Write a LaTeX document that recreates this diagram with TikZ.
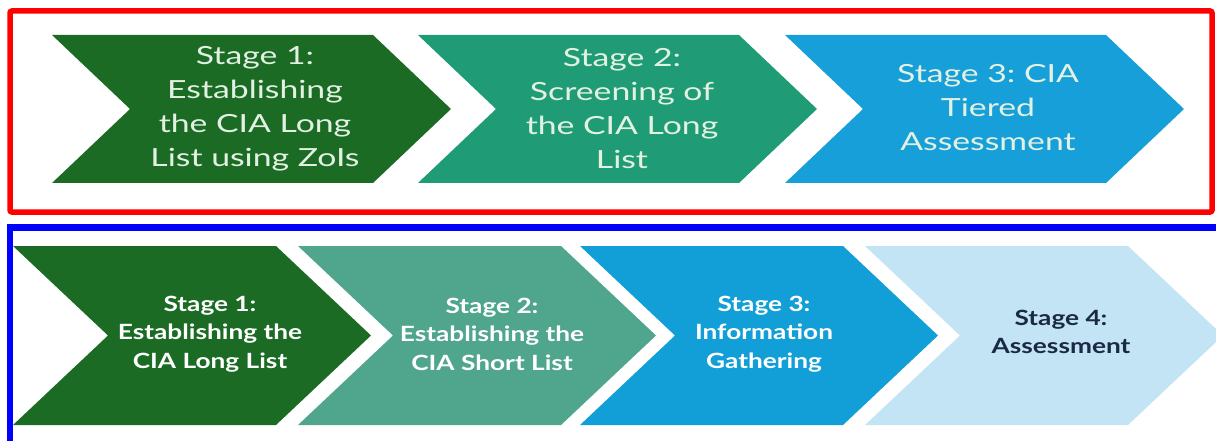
\documentclass[tikz,border=0pt]{standalone}
\usepackage{fontspec}
\newfontfamily\stagefont[FakeStretch=1.35]{Lato}
\newfontfamily\lowfont[FakeStretch=1.25]{Lato}
\frenchspacing
\definecolor{topone}{HTML}{1B6B25}
\definecolor{toptwo}{HTML}{1F9C75}
\definecolor{topthree}{HTML}{179FDA}
\definecolor{lowone}{HTML}{1B6B25}
\definecolor{lowtwo}{HTML}{50A68D}
\definecolor{lowthree}{HTML}{129ED6}
\definecolor{lowfour}{HTML}{C3E4F4}
\definecolor{paletext}{HTML}{E2F1E2}
\definecolor{navytext}{HTML}{1B2A44}
\tikzset{
  toptext/.style = {align=center, text=paletext, inner sep=0pt,
    font=\stagefont\fontsize{25}{34}\selectfont},
  lowtext/.style = {align=center, text=white, inner sep=0pt,
    font=\lowfont\bfseries\fontsize{21}{28.5}\selectfont},
  framebox/.style = {line width=5.5pt, rounded corners=2pt}
}

\begin{document}
\begin{tikzpicture}[x=1pt, y=-1pt]
  \useasboundingbox (0,0) rectangle (1216,441);
  \clip (0,0) rectangle (1216,441);
  % top row of stages
  \foreach \x/\col in {52/topone, 418/toptwo, 785/topthree}
    \fill[\col] (\x,35) -- ++(321,0) -- ++(78,74) -- ++(-78,74)
      -- ++(-321,0) -- ++(78,-74) -- cycle;
  \node[toptext] (topstage1) at (255,109) {Stage 1:\\Establishing\\the CIA Long\\List using ZoIs};
  \node[toptext] (topstage2) at (622,109) {Stage 2:\\Screening of\\the CIA Long\\List};
  \node[toptext] (topstage3) at (988,108) {Stage 3: CIA\\Tiered\\Assessment};
  \draw[red, framebox] (10,11) rectangle (1212,212);
  % bottom row of stages
  \foreach \x/\col in {13/lowone, 298/lowtwo, 580/lowthree, 865/lowfour}
    \fill[\col] (\x,246) -- ++(263,0) -- ++(95,89.5) -- ++(-95,89.5)
      -- ++(-263,0) -- ++(95,-89.5) -- cycle;
  \node[lowtext] (lowstage1) at (210,334) {Stage 1:\\Establishing the\\CIA Long List};
  \node[lowtext] (lowstage2) at (492,334) {Stage 2:\\Establishing the\\CIA Short List};
  \node[lowtext] (lowstage3) at (764,334) {Stage 3:\\Information\\Gathering};
  \node[lowtext, text=navytext] (lowstage4) at (1061,332) {Stage 4:\\Assessment};
  \draw[blue, line width=6.5pt] (1240,227.5) -- (10,227.5) -- (10,470);
\end{tikzpicture}
\end{document}
